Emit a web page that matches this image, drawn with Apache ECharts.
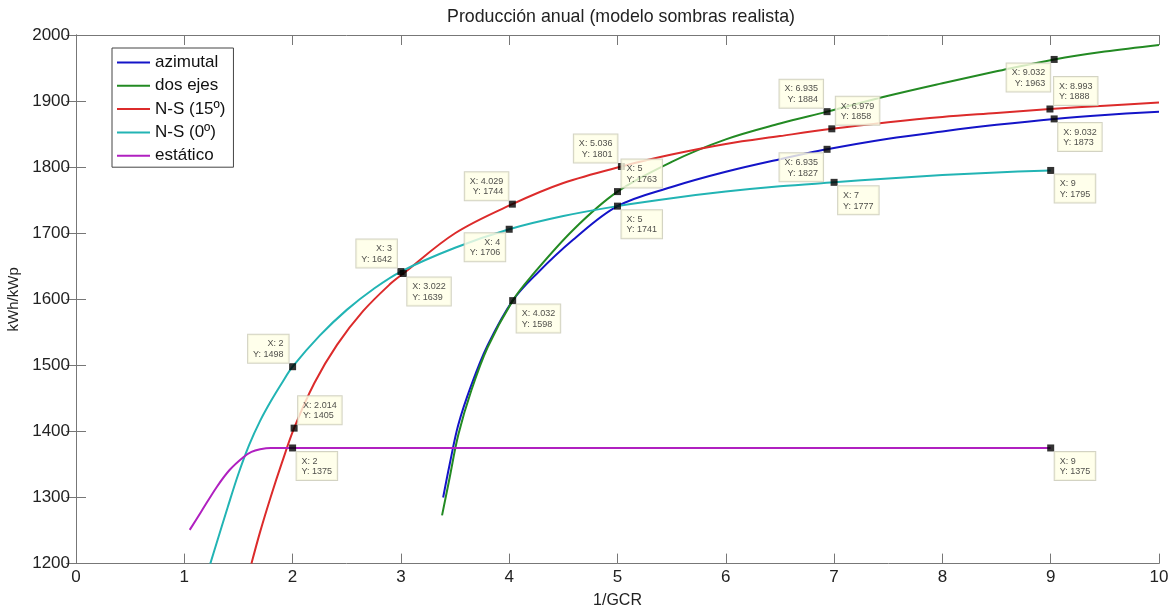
<!DOCTYPE html>
<html>
<head>
<meta charset="utf-8">
<script src="https://cdn.jsdelivr.net/npm/echarts@6/dist/echarts.min.js"></script>
<style>
html,body{margin:0;padding:0;background:#fff;}
#chart{width:1176px;height:608px;}
</style>
</head>
<body>
<div id="chart"></div>
<script>
// ---- data ----
var xTicks = [0,1,2,3,4,5,6,7,8,9,10];
var yTicks = [1200,1300,1400,1500,1600,1700,1800,1900,2000];

var seriesNames = ['azimutal','dos ejes','N-S (15º)','N-S (0º)','estático'];

var aziX = [3.39,3.45,3.53,3.65,3.8,4.032,4.25,4.59,5,5.5,6,6.5,6.935,7.5,8,8.5,9.032,9.5,10];
var aziY = [1300,1350,1410,1470,1530,1598,1638,1690,1741,1770,1793,1812,1827,1843,1854,1864,1873,1879,1884];

var dosX = [3.38,3.45,3.53,3.65,3.8,4.032,4.2,4.59,5,5.5,6,6.5,6.935,7.5,8,8.5,9.032,9.5,10];
var dosY = [1273,1330,1395,1462,1527,1598,1634,1705,1763,1808,1842,1866,1884,1908,1927,1945,1963,1975,1985];

var ns15X = [1.62,1.7,1.8,1.9,2.014,2.2,2.41,2.65,2.9,3.022,3.5,4.029,4.5,5.036,5.5,6,6.5,6.979,7.5,8,8.5,8.993,9.5,10];
var ns15Y = [1200,1248,1302,1352,1405,1473,1531,1582,1623,1639,1700,1744,1776,1801,1819,1835,1847,1858,1868,1876,1882,1888,1893,1898];

var ns0X = [1.24,1.3,1.4,1.5,1.6,1.7,1.8,1.9,2,2.25,2.5,2.75,3,3.5,4,4.5,5,5.5,6,6.5,7,7.5,8,8.5,9];
var ns0Y = [1200,1232,1285,1336,1380,1416,1446,1473,1498,1545,1584,1616,1642,1678,1706,1726,1741,1753,1763,1771,1777,1783,1788,1792,1795];

var estX = [1.05,1.15,1.3,1.42,1.545,1.62,1.7,1.8,2,9];
var estY = [1251,1277,1316,1342,1361,1369,1373,1375,1375,1375];

// data tips (values)
var tipX = [2,2.014,2,3,3.022,4.029,4,4.032,5.036,5,5,6.935,6.979,6.935,7,9.032,8.993,9.032,9,9];
var tipY = [1498,1405,1375,1642,1639,1744,1706,1598,1801,1763,1741,1884,1858,1827,1777,1963,1888,1873,1795,1375];
// data tip box corner (layout): tl = box top-left of marker, tr, bl, br
var tipCorner = ['tl','tr','br','tl','br','tl','bl','br','tl','tr','br','tl','tr','bl','br','bl','tr','br','br','br'];

var colors = ['#1414c8','#238a23','#dc2b2b','#22b4b4','#b020c0'];

function zip(xs, ys){ return xs.map(function(x,i){ return [x, ys[i]]; }); }

var FONT = 'Liberation Sans, Arial, sans-serif';
var axisColor = '#777';

function cornerLabel(c){
  var dx = (c === 'tl' || c === 'bl') ? -4 : 4;
  var dy = (c === 'tl' || c === 'tr') ? -4 : 4;
  return {
    show: true,
    position: 'inside',
    align: dx < 0 ? 'right' : 'left',
    verticalAlign: dy < 0 ? 'bottom' : 'top',
    offset: [dx, dy]
  };
}

var tipData = tipX.map(function(x,i){
  return { value: [x, tipY[i]], label: cornerLabel(tipCorner[i]) };
});

var lineData = [zip(aziX,aziY), zip(dosX,dosY), zip(ns15X,ns15Y), zip(ns0X,ns0Y), zip(estX,estY)];

var series = lineData.map(function(d,i){
  return {
    name: seriesNames[i],
    type: 'line',
    data: d,
    symbol: 'none',
    showSymbol: false,
    smooth: 0.35,
    lineStyle: { color: colors[i], width: 2 },
    itemStyle: { color: colors[i] },
    z: 2 + i,
    animation: false
  };
});

series.push({
  name: 'tips',
  type: 'scatter',
  data: tipData,
  symbol: 'rect',
  symbolSize: 7,
  itemStyle: { color: '#000' },
  z: 20,
  animation: false,
  label: {
    show: true,
    formatter: function(p){ return 'X: ' + p.value[0] + '\nY: ' + p.value[1]; },
    fontSize: 9,
    lineHeight: 10.5,
    fontFamily: FONT,
    color: '#222',
    backgroundColor: '#ffffe6',
    borderColor: '#c8c8b4',
    borderWidth: 1,
    padding: [4,5,3,5]
  }
});

var chart = echarts.init(document.getElementById('chart'), null, { renderer: 'canvas' });
chart.setOption({
  backgroundColor: '#ffffff',
  animation: false,
  color: colors,
  title: {
    text: 'Producción anual (modelo sombras realista)',
    left: 616,
    top: 3,
    textAlign: 'center',
    textStyle: { fontSize: 17.8, fontWeight: 'normal', color: '#222', fontFamily: FONT }
  },
  legend: {
    data: seriesNames.map(function(n){ return { name: n, icon: 'rect' }; }),
    orient: 'vertical',
    left: 112,
    top: 48,
    itemWidth: 33,
    itemHeight: 2,
    itemGap: 6.3,
    padding: [6,8,3,5],
    borderColor: '#444',
    borderWidth: 1,
    backgroundColor: '#fff',
    textStyle: { fontSize: 17, lineHeight: 17, color: '#111', fontFamily: FONT }
  },
  grid: { left: 76, right: 17, top: 35, bottom: 44.4, containLabel: false, outerBoundsMode: 'none' },
  xAxis: [{
    type: 'value', min: 0, max: 10, interval: 1,
    name: '1/GCR', nameLocation: 'middle', nameGap: 29,
    nameTextStyle: { fontSize: 16, color: '#222', fontFamily: FONT },
    axisLine: { show: true, lineStyle: { color: axisColor, width: 1 } },
    axisTick: { show: true, inside: true, length: 10, lineStyle: { color: axisColor } },
    axisLabel: { fontSize: 17, color: '#222', margin: 5, fontFamily: FONT, formatter: function(v){ return String(v); } },
    splitLine: { show: false }
  },{
    type: 'value', min: 0, max: 10, interval: 1, position: 'top',
    axisLine: { show: true, lineStyle: { color: axisColor, width: 1 } },
    axisTick: { show: true, inside: true, length: 10, lineStyle: { color: axisColor } },
    axisLabel: { show: false },
    splitLine: { show: false }
  }],
  yAxis: [{
    type: 'value', min: 1200, max: 2000, interval: 100,
    name: 'kWh/kWp', nameLocation: 'middle', nameGap: 51, nameRotate: 90,
    nameTextStyle: { fontSize: 15, color: '#222', fontFamily: FONT },
    axisLine: { show: true, lineStyle: { color: axisColor, width: 1 } },
    axisTick: { show: true, inside: true, length: 10, lineStyle: { color: axisColor } },
    axisLabel: { fontSize: 17, color: '#222', margin: 6, fontFamily: FONT, formatter: function(v){ return String(v); } },
    splitLine: { show: false }
  },{
    type: 'value', min: 1200, max: 2000, interval: 100, position: 'right',
    axisLine: { show: true, lineStyle: { color: axisColor, width: 1 } },
    axisTick: { show: true, inside: true, length: 10, lineStyle: { color: axisColor } },
    axisLabel: { show: false },
    splitLine: { show: false }
  }],
  series: series
});
</script>
</body>
</html>
